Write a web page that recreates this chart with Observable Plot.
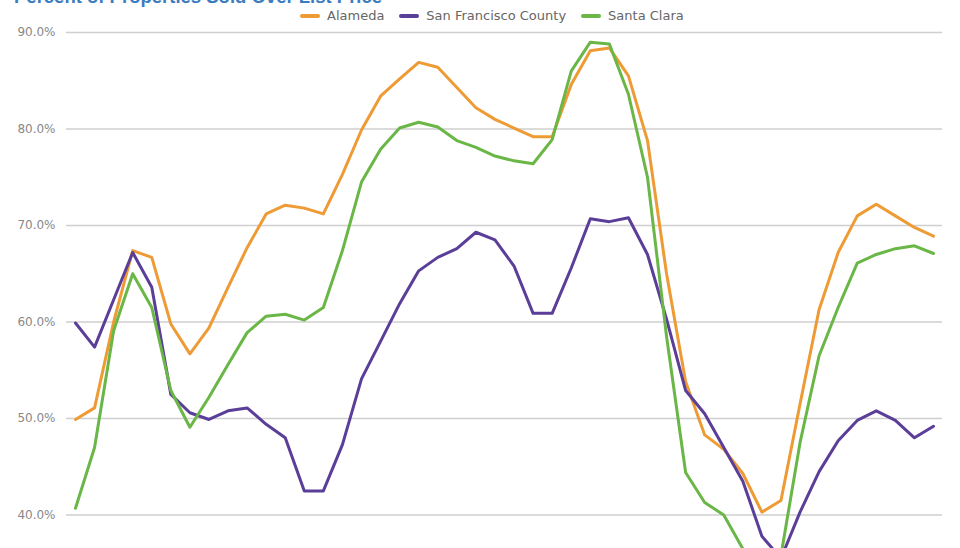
<!DOCTYPE html>
<html><head><meta charset="utf-8">
<script src="https://cdn.jsdelivr.net/npm/d3@7"></script>
<script src="https://cdn.jsdelivr.net/npm/@observablehq/plot@0.6"></script>
<style>
html,body{margin:0;padding:0;background:#fff;overflow:hidden;width:960px;height:548px;}
#wrap{position:relative;width:960px;height:548px;overflow:hidden;}
#title{position:absolute;left:14px;top:-12px;font:bold 18.5px "Liberation Sans",Arial,sans-serif;line-height:18px;color:#3b7cc0;white-space:nowrap;}
#legend{position:absolute;left:300px;top:8px;display:flex;gap:15px;font:13px "DejaVu Sans",sans-serif;color:#666;line-height:16px;z-index:2;}
.item{display:flex;align-items:center;gap:7px}
.sw{width:20px;height:4px;border-radius:2px}
#chart{position:absolute;left:0;top:0}
</style></head>
<body>
<div id="wrap">
  <div id="title">Percent of Properties Sold Over List Price</div>
  <div id="legend"></div>
  <div id="chart"></div>
</div>
<script>
const seriesNames = ["Alameda", "San Francisco County", "Santa Clara"];
const seriesColors = ["#ee9b36", "#5a3e98", "#6ab647"];
const periods = d3.range(46); // monthly periods (index)
const alameda = [49.9, 51.1, 60.0, 67.4, 66.7, 59.8, 56.7, 59.4, 63.6, 67.7, 71.2, 72.1, 71.8, 71.2, 75.3, 79.9, 83.4, 85.2, 86.9, 86.4, 84.3, 82.2, 81.0, 80.1, 79.2, 79.2, 84.6, 88.1, 88.4, 85.5, 78.8, 65.0, 53.8, 48.3, 46.8, 44.3, 40.3, 41.5, 51.5, 61.3, 67.2, 71.0, 72.2, 71.0, 69.8, 68.9];
const sanFrancisco = [59.9, 57.4, 62.3, 67.2, 63.6, 52.5, 50.6, 49.9, 50.8, 51.1, 49.4, 48.0, 42.5, 42.5, 47.3, 54.1, 58.0, 61.9, 65.3, 66.7, 67.6, 69.3, 68.5, 65.8, 60.9, 60.9, 65.6, 70.7, 70.4, 70.8, 67.0, 60.3, 52.9, 50.5, 47.0, 43.5, 37.8, 35.5, 40.3, 44.5, 47.7, 49.8, 50.8, 49.8, 48.0, 49.2];
const santaClara = [40.7, 47.0, 59.1, 65.0, 61.5, 52.9, 49.1, 52.2, 55.6, 58.9, 60.6, 60.8, 60.2, 61.5, 67.4, 74.5, 77.9, 80.1, 80.7, 80.2, 78.8, 78.1, 77.2, 76.7, 76.4, 78.9, 86.0, 89.0, 88.8, 83.6, 75.0, 58.5, 44.4, 41.3, 40.0, 36.5, 33.0, 35.8, 47.5, 56.5, 61.5, 66.1, 67.0, 67.6, 67.9, 67.1];
const yTicks = [40, 50, 60, 70, 80, 90];

const seriesValues = [alameda, sanFrancisco, santaClara];
const data = seriesNames.flatMap((name, s) => periods.map((p, i) => ({series: name, period: p, value: seriesValues[s][i]})));

const chart = Plot.plot({
  width: 960,
  height: 548,
  marginTop: 32,
  marginBottom: 0,
  marginLeft: 66,
  marginRight: 18,
  style: {fontFamily: "DejaVu Sans, sans-serif", fontSize: "12px", color: "#888", background: "transparent"},
  x: {domain: [-0.472, 45.472], axis: null},
  y: {domain: [36.53, 90]},
  color: {domain: seriesNames, range: seriesColors},
  marks: [
    Plot.gridY(yTicks, {stroke: "#cfcfcf", strokeOpacity: 1, strokeWidth: 1.6}),
    Plot.axisY(yTicks, {tickSize: 0, tickPadding: 11, tickFormat: d => d.toFixed(1) + "%", fill: "#888", label: null}),
    Plot.line(data, {x: "period", y: "value", z: "series", stroke: "series", strokeWidth: 3, strokeLinejoin: "round", clip: true})
  ]
});
document.getElementById("chart").appendChild(chart);

const legend = document.getElementById("legend");
seriesNames.forEach((name, i) => {
  const item = document.createElement("div");
  item.className = "item";
  const sw = document.createElement("div");
  sw.className = "sw";
  sw.style.background = seriesColors[i];
  const t = document.createElement("span");
  t.textContent = name;
  item.appendChild(sw);
  item.appendChild(t);
  legend.appendChild(item);
});
</script>
</body></html>
